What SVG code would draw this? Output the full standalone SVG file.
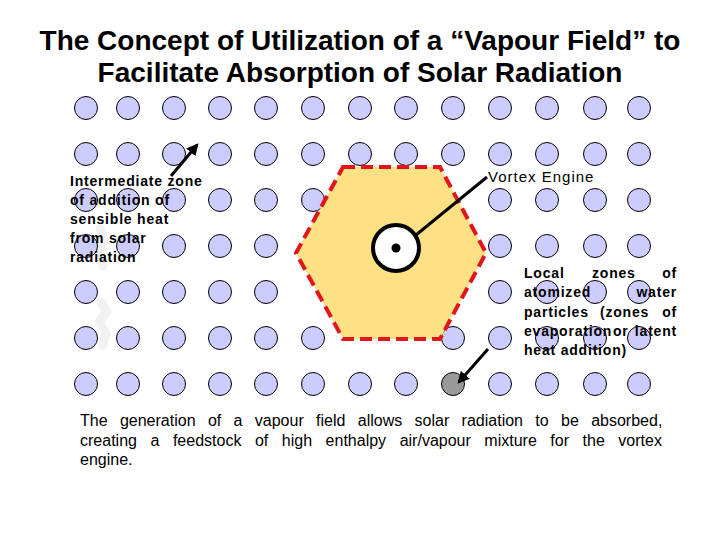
<svg xmlns="http://www.w3.org/2000/svg" width="720" height="540" viewBox="0 0 720 540">
<defs>
<style>
.dot{fill:#ccccff;stroke:#000;stroke-width:1}
.grey{fill:#999999;stroke:#000;stroke-width:1}
.title{font-family:"Liberation Sans",Arial,sans-serif;font-size:28px;font-weight:bold;fill:#000;text-anchor:middle}
.lab{font-family:"Liberation Sans",Arial,sans-serif;font-size:14px;font-weight:bold;letter-spacing:0.8px;fill:#000}
.ve{font-family:"Liberation Sans",Arial,sans-serif;font-size:15px;letter-spacing:1px;fill:#000}
.body{font-family:"Liberation Sans",Arial,sans-serif;font-size:16px;fill:#000}
.conn{stroke:#000;stroke-width:3;fill:none}
</style>
<marker id="ah" viewBox="0 0 10 10" refX="8" refY="5" markerWidth="4" markerHeight="4" orient="auto" markerUnits="strokeWidth">
<path d="M0,0 L10,5 L0,10 z" fill="#000"/>
</marker>
<g id="d"><circle r="11.5" class="dot"/></g>
</defs>
<rect width="720" height="540" fill="#fff"/>
<g id="title">
<text class="title" x="360" y="50">The Concept of Utilization of a “Vapour Field” to</text>
<text class="title" x="360" y="82">Facilitate Absorption of Solar Radiation</text>
</g>
<path id="faint-mark" d="M100,229 L104,240 L99,252 L103,266 M101,302 L107,311 L99,322 L106,333 L103,345" stroke="#f1f1f1" stroke-width="9" fill="none" stroke-linejoin="round" stroke-linecap="round"/>
<g id="vapour-field">
<use href="#d" x="86" y="108"/><use href="#d" x="128" y="108"/><use href="#d" x="174" y="108"/><use href="#d" x="220" y="108"/><use href="#d" x="266" y="108"/><use href="#d" x="313" y="108"/><use href="#d" x="360" y="108"/><use href="#d" x="406" y="108"/><use href="#d" x="453" y="108"/><use href="#d" x="500" y="108"/><use href="#d" x="547" y="108"/><use href="#d" x="595" y="108"/><use href="#d" x="639" y="108"/>
<use href="#d" x="86" y="154"/><use href="#d" x="128" y="154"/><use href="#d" x="174" y="154"/><use href="#d" x="220" y="154"/><use href="#d" x="266" y="154"/><use href="#d" x="313" y="154"/><use href="#d" x="360" y="154"/><use href="#d" x="406" y="154"/><use href="#d" x="453" y="154"/><use href="#d" x="500" y="154"/><use href="#d" x="547" y="154"/><use href="#d" x="595" y="154"/><use href="#d" x="639" y="154"/>
<use href="#d" x="86" y="200"/><use href="#d" x="128" y="200"/><use href="#d" x="174" y="200"/><use href="#d" x="220" y="200"/><use href="#d" x="266" y="200"/><use href="#d" x="313" y="200"/><use href="#d" x="500" y="200"/><use href="#d" x="547" y="200"/><use href="#d" x="595" y="200"/><use href="#d" x="639" y="200"/>
<use href="#d" x="86" y="246"/><use href="#d" x="128" y="246"/><use href="#d" x="174" y="246"/><use href="#d" x="220" y="246"/><use href="#d" x="266" y="246"/><use href="#d" x="500" y="246"/><use href="#d" x="547" y="246"/><use href="#d" x="595" y="246"/><use href="#d" x="639" y="246"/>
<use href="#d" x="86" y="292"/><use href="#d" x="128" y="292"/><use href="#d" x="174" y="292"/><use href="#d" x="220" y="292"/><use href="#d" x="266" y="292"/><use href="#d" x="500" y="292"/><use href="#d" x="547" y="292"/><use href="#d" x="595" y="292"/><use href="#d" x="639" y="292"/>
<use href="#d" x="86" y="338"/><use href="#d" x="128" y="338"/><use href="#d" x="174" y="338"/><use href="#d" x="220" y="338"/><use href="#d" x="266" y="338"/><use href="#d" x="313" y="338"/><use href="#d" x="453" y="338"/><use href="#d" x="500" y="338"/><use href="#d" x="547" y="338"/><use href="#d" x="595" y="338"/><use href="#d" x="639" y="338"/>
<use href="#d" x="86" y="384"/><use href="#d" x="128" y="384"/><use href="#d" x="174" y="384"/><use href="#d" x="220" y="384"/><use href="#d" x="266" y="384"/><use href="#d" x="313" y="384"/><use href="#d" x="360" y="384"/><use href="#d" x="406" y="384"/><use href="#d" x="500" y="384"/><use href="#d" x="547" y="384"/><use href="#d" x="595" y="384"/><use href="#d" x="639" y="384"/>
</g>
<g id="atomized-zone"><circle cx="453" cy="384" r="11.5" class="grey"/></g>
<g id="hexagon">
<polygon points="343,167 440,167 486,253 440,339 343,339 296,253" fill="#ffe185" stroke="#e3141b" stroke-width="4" stroke-dasharray="12 6"/>
</g>
<g id="vortex-engine">
<circle cx="396" cy="248" r="23" fill="#fff" stroke="#000" stroke-width="4"/>
<circle cx="396" cy="248" r="4.5" fill="#000"/>
</g>
<g id="connectors">
<line class="conn" x1="171" y1="176" x2="197" y2="145" marker-end="url(#ah)"/>
<line class="conn" x1="416" y1="235" x2="487" y2="177"/>
<line class="conn" x1="488" y1="349" x2="459" y2="382" marker-end="url(#ah)"/>
</g>
<g id="label-intermediate">
<text class="lab" x="70" y="186">Intermediate zone</text>
<text class="lab" x="70" y="205">of addition of</text>
<text class="lab" x="70" y="224">sensible heat</text>
<text class="lab" x="70" y="243">from solar</text>
<text class="lab" x="70" y="262">radiation</text>
</g>
<g id="label-vortex">
<text class="ve" x="488" y="182">Vortex Engine</text>
</g>
<g id="label-local">
<text class="lab" y="278"><tspan x="524">Local</tspan><tspan x="592">zones</tspan><tspan x="677" text-anchor="end">of</tspan></text>
<text class="lab" y="297"><tspan x="524">atomized</tspan><tspan x="677" text-anchor="end">water</tspan></text>
<text class="lab" y="316.5"><tspan x="524">particles</tspan><tspan x="600">(zones</tspan><tspan x="677" text-anchor="end">of</tspan></text>
<text class="lab" y="335.5" letter-spacing="0.4"><tspan x="524">evaporation</tspan><tspan x="613">or</tspan><tspan x="677" text-anchor="end">latent</tspan></text>
<text class="lab" y="355"><tspan x="524">heat addition)</tspan></text>
</g>
<g id="caption">
<text class="body" x="80" y="426" word-spacing="7.9">The generation of a vapour field allows solar radiation to be absorbed,</text>
<text class="body" x="80" y="445.5" word-spacing="9.1">creating a feedstock of high enthalpy air/vapour mixture for the vortex</text>
<text class="body" x="80" y="465">engine.</text>
</g>
</svg>
